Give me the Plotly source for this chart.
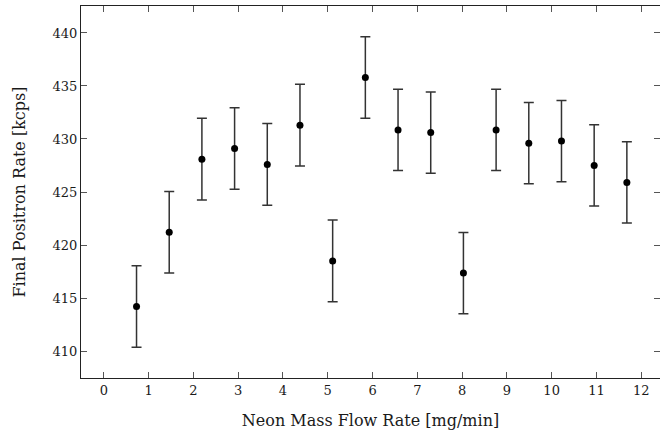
import plotly.graph_objects as go

flow = [0.73, 1.46, 2.19, 2.92, 3.65, 4.38, 5.11, 5.84, 6.57, 7.30, 8.03, 8.76, 9.49, 10.22, 10.95, 11.68]
rate = [414.2, 421.2, 428.1, 429.1, 427.6, 431.3, 418.5, 435.8, 430.85, 430.6, 417.35, 430.85, 429.6, 429.8, 427.5, 425.9]
err = [3.85, 3.85, 3.85, 3.85, 3.85, 3.85, 3.85, 3.85, 3.83, 3.83, 3.83, 3.83, 3.83, 3.83, 3.83, 3.83]
xticks = list(range(0, 13))
yticks = [410, 415, 420, 425, 430, 435, 440]

font = dict(family="DejaVu Serif", size=13, color="#1a1a1a")

fig = go.Figure()
fig.add_trace(go.Scatter(
    x=flow, y=rate, mode="markers",
    marker=dict(color="black", size=7),
    error_y=dict(type="data", array=err, visible=True, color="#333333", thickness=1.5, width=5),
    showlegend=False,
))

fig.update_layout(
    width=660, height=430,
    margin=dict(l=81, r=0, t=6, b=52),
    plot_bgcolor="white", paper_bgcolor="white",
    font=font,
    xaxis=dict(
        range=[-0.51, 12.42], tickvals=xticks, ticktext=[str(v) for v in xticks],
        showgrid=False, zeroline=False, showline=True, linecolor="#222222", linewidth=1.3,
        mirror="ticks", ticks="inside", ticklen=6, tickcolor="#555555", tickwidth=1,
        tickfont=dict(family="DejaVu Serif", size=13, color="#1a1a1a"),
        title=dict(text="Neon Mass Flow Rate [mg/min]", font=dict(family="DejaVu Serif", size=16, color="#1a1a1a"), standoff=20),
    ),
    yaxis=dict(
        range=[407.46, 442.54], tickvals=yticks, ticktext=[str(v) for v in yticks],
        showgrid=False, zeroline=False, showline=True, linecolor="#222222", linewidth=1.3,
        mirror="ticks", ticks="inside", ticklen=6, tickcolor="#555555", tickwidth=1,
        tickfont=dict(family="DejaVu Serif", size=13, color="#1a1a1a"),
        title=dict(text="Final Positron Rate [kcps]", font=dict(family="DejaVu Serif", size=16, color="#1a1a1a"), standoff=22),
    ),
)

fig.write_html("out.html")
